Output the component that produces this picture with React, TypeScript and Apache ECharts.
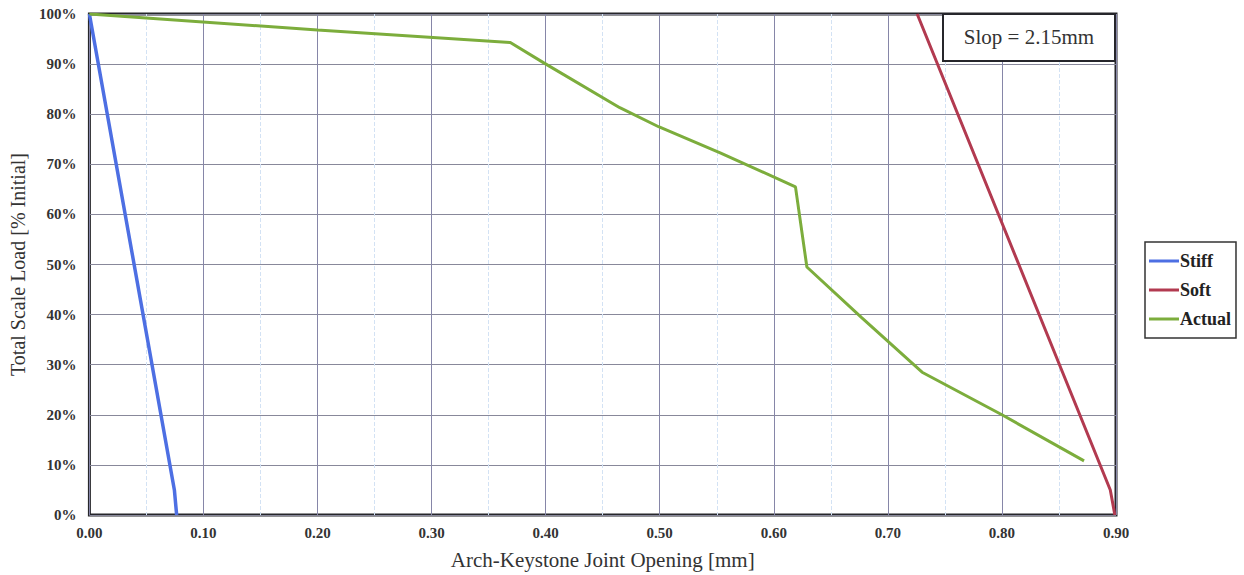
import React, { useEffect, useRef } from "react";
import * as echarts from "echarts";

// Joint opening [mm] vs. remaining load [% of initial]
const stiffX = [0.0, 0.0745, 0.0765];
const stiffY = [100, 5, 0];

const softX = [0.7257, 0.895, 0.899];
const softY = [100, 5, 0];

const actualX = [0.0, 0.2, 0.369, 0.398, 0.465, 0.499, 0.553, 0.619, 0.629, 0.677, 0.73, 0.8, 0.872];
const actualY = [100, 96.8, 94.3, 90.3, 81.3, 77.5, 72.3, 65.5, 49.5, 39.4, 28.5, 20, 10.8];

const seriesNames = ["Stiff", "Soft", "Actual"];
const seriesColors = ["#4d6fe3", "#b23a50", "#7cad3c"];
const slopNote = "Slop = 2.15mm";

const FONT = "'Liberation Serif', 'DejaVu Serif', serif";

const pairs = (xs: number[], ys: number[]) => xs.map((x, i) => [x, ys[i]]);

export default function App() {
  const ref = useRef<HTMLDivElement>(null);

  useEffect(() => {
    if (!ref.current) return;
    const chart = echarts.init(ref.current, undefined, { renderer: "svg" });
    const data = [pairs(stiffX, stiffY), pairs(softX, softY), pairs(actualX, actualY)];
    chart.setOption({
      animation: false,
      backgroundColor: "#ffffff",
      grid: {
        left: 89,
        right: 128,
        top: 14,
        bottom: 59,
        show: true,
        borderColor: "#26262b",
        borderWidth: 3,
        backgroundColor: "transparent",
      },
      legend: {
        orient: "vertical",
        left: 1145,
        top: 242,
        data: seriesNames,
        icon: "rect",
        itemWidth: 30,
        itemHeight: 3,
        itemGap: 11,
        padding: [10, 5, 10, 4],
        borderColor: "#333",
        borderWidth: 1.5,
        textStyle: {
          fontFamily: FONT,
          fontSize: 18,
          fontWeight: "bold",
          color: "#222",
          padding: [0, 0, 0, -4],
        },
      },
      xAxis: {
        type: "value",
        min: 0,
        max: 0.9,
        interval: 0.1,
        name: "Arch-Keystone Joint Opening [mm]",
        nameLocation: "middle",
        nameGap: 34,
        nameTextStyle: { fontFamily: FONT, fontSize: 21, color: "#333" },
        axisLine: { show: false },
        axisTick: { show: false },
        axisLabel: {
          margin: 10,
          fontFamily: FONT,
          fontSize: 15,
          fontWeight: "bold",
          color: "#333",
          formatter: (v: number) => v.toFixed(2),
        },
        splitLine: { show: true, lineStyle: { color: "#8686a8", width: 1 } },
        minorTick: { show: false, splitNumber: 2 },
        minorSplitLine: { show: true, lineStyle: { color: "#d3e2f4", width: 1, type: "dashed" } },
      },
      yAxis: {
        type: "value",
        min: 0,
        max: 100,
        interval: 10,
        name: "Total Scale Load [% Initial]",
        nameLocation: "middle",
        nameGap: 57,
        nameTextStyle: { fontFamily: FONT, fontSize: 20, color: "#333" },
        axisLine: { show: false },
        axisTick: { show: false },
        axisLabel: {
          margin: 13,
          fontFamily: FONT,
          fontSize: 15,
          fontWeight: "bold",
          color: "#333",
          formatter: (v: number) => `${v}%`,
        },
        splitLine: { show: true, lineStyle: { color: "#88889a", width: 1 } },
      },
      graphic: [
        {
          type: "rect",
          shape: { x: 943, y: 14, width: 172, height: 47 },
          style: { fill: "#ffffff", stroke: "#26262b", lineWidth: 2 },
          z: 10,
        },
        {
          type: "text",
          x: 1029,
          y: 37,
          style: {
            text: slopNote,
            fontFamily: FONT,
            fontSize: 21,
            fill: "#333",
            align: "center",
            verticalAlign: "middle",
          },
          z: 11,
        },
      ],
      series: seriesNames.map((name, i) => ({
        name,
        type: "line",
        data: data[i],
        showSymbol: false,
        symbol: "none",
        color: seriesColors[i],
        lineStyle: { color: seriesColors[i], width: i === 0 ? 3.5 : 3 },
        z: 3 + i,
      })),
    });
    return () => chart.dispose();
  }, []);

  return (
    <div
      ref={ref}
      style={{ position: "fixed", left: 0, top: 0, width: 1244, height: 575, background: "#fff" }}
    />
  );
}
